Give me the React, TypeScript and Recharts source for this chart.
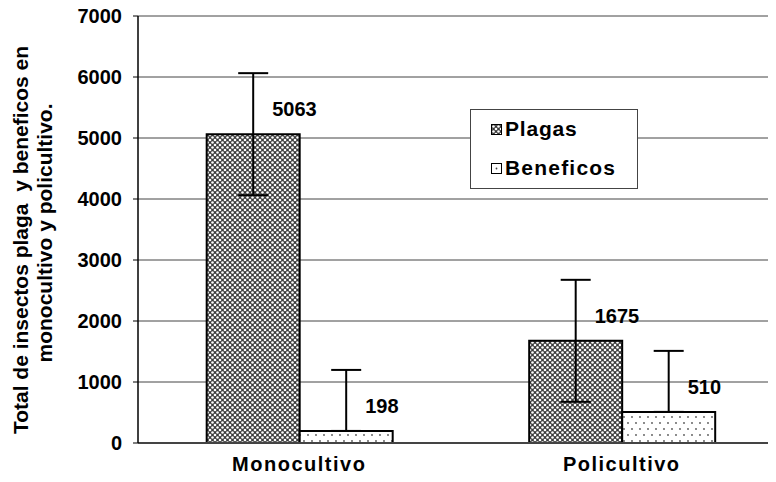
import React from "react";
import {
  BarChart,
  Bar,
  XAxis,
  YAxis,
  CartesianGrid,
  ErrorBar,
  LabelList,
  Legend,
} from "recharts";

const categories = ["Monocultivo", "Policultivo"];
const plagas = [5063, 1675];
const beneficos = [198, 510];
const plagasError = [1000, 1000];
const beneficosError = [1000, 1000];
const yTicks = [0, 1000, 2000, 3000, 4000, 5000, 6000, 7000];

const data = categories.map((name, i) => ({
  name,
  plagas: plagas[i],
  beneficos: beneficos[i],
  plagasErr: plagasError[i],
  // only the upper whisker is drawn for beneficos
  beneficosErr: [0, beneficosError[i]],
}));

const FONT = "'Liberation Sans', Arial, sans-serif";

const renderValue = (props: any) => {
  const { x, y, width, value } = props;
  return (
    <text
      x={x + width / 2 + 19}
      y={y - 25}
      fontFamily={FONT}
      fontSize={20}
      fontWeight="bold"
      fill="#000"
      dominantBaseline="central"
    >
      {value}
    </text>
  );
};

const YTitle = () => (
  <g fontFamily={FONT} fontSize={21} fontWeight="bold" fill="#000">
    <text
      transform="translate(20,240) rotate(-90)"
      textAnchor="middle"
      dominantBaseline="central"
      xmlSpace="preserve"
      style={{ whiteSpace: "pre" }}
    >
      {"Total de insectos plaga  y beneficos en"}
    </text>
    <text
      transform="translate(44,233) rotate(-90)"
      textAnchor="middle"
      dominantBaseline="central"
    >
      monocultivo y policultivo.
    </text>
  </g>
);

const LegendBox = () => (
  <div
    style={{
      width: 168,
      height: 80,
      border: "1px solid #444",
      background: "#fff",
      boxSizing: "border-box",
      fontFamily: FONT,
      fontSize: 21,
      fontWeight: "bold",
      paddingLeft: 20,
      letterSpacing: 0.8,
    }}
  >
    <div style={{ display: "flex", alignItems: "center", height: 38 }}>
      <svg width={11} height={11} style={{ marginRight: 3 }}>
        <rect x={0.5} y={0.5} width={10} height={10} fill="url(#plagasFill)" stroke="#000" />
      </svg>
      <span>Plagas</span>
    </div>
    <div style={{ display: "flex", alignItems: "center", height: 40 }}>
      <svg width={11} height={11} style={{ marginRight: 3 }}>
        <rect x={0.5} y={0.5} width={10} height={10} fill="#fff" stroke="#000" />
        <circle cx={5.5} cy={5.5} r={0.9} fill="#444" />
      </svg>
      <span style={{ letterSpacing: 1.2 }}>Beneficos</span>
    </div>
  </div>
);

export default function App() {
  return (
    <div style={{ width: 776, height: 482, overflow: "hidden", margin: -8, position: "relative" }}>
      <BarChart
        width={783}
        height={482}
        data={data}
        margin={{ top: 16, right: 0, bottom: 0, left: 0 }}
        barGap={0}
        barCategoryGap="21.3%"
      >
        <defs>
          <pattern id="plagasFill" width={5} height={5} patternUnits="userSpaceOnUse">
            <rect width={5} height={5} fill="#3c3c3c" />
            <circle cx={2.5} cy={2.5} r={1.3} fill="#fff" />
            <circle cx={0} cy={0} r={1.3} fill="#fff" />
            <circle cx={5} cy={0} r={1.3} fill="#fff" />
            <circle cx={0} cy={5} r={1.3} fill="#fff" />
            <circle cx={5} cy={5} r={1.3} fill="#fff" />
          </pattern>
          <pattern id="beneficosFill" width={16} height={12} patternUnits="userSpaceOnUse">
            <rect width={16} height={12} fill="#fff" />
            <circle cx={4} cy={3} r={0.9} fill="#555" />
            <circle cx={12} cy={3} r={0.9} fill="#555" />
            <circle cx={0} cy={9} r={0.9} fill="#555" />
            <circle cx={8} cy={9} r={0.9} fill="#555" />
            <circle cx={16} cy={9} r={0.9} fill="#555" />
          </pattern>
        </defs>
        <CartesianGrid vertical={false} stroke="#444" strokeWidth={1} />
        <XAxis
          dataKey="name"
          height={39}
          tickLine={false}
          tickSize={0}
          tickMargin={14}
          axisLine={{ stroke: "#444", strokeWidth: 2 }}
          tick={{
            fontFamily: FONT,
            fontSize: 20,
            fontWeight: "bold",
            fill: "#000",
            letterSpacing: 1.5,
          }}
        />
        <YAxis
          width={138}
          domain={[0, 7000]}
          ticks={yTicks}
          interval={0}
          tickSize={5}
          tickMargin={11}
          axisLine={{ stroke: "#000", strokeWidth: 1.5 }}
          tickLine={{ stroke: "#000" }}
          tick={{ fontFamily: FONT, fontSize: 20, fontWeight: "bold", fill: "#000" }}
          label={{ content: <YTitle /> }}
        />
        <Legend
          layout="vertical"
          align="center"
          verticalAlign="middle"
          wrapperStyle={{ left: 470, top: 109, width: 168, height: 80 }}
          content={<LegendBox />}
        />
        <Bar
          dataKey="plagas"
          name="Plagas"
          fill="url(#plagasFill)"
          stroke="#000"
          strokeWidth={2}
          isAnimationActive={false}
        >
          <ErrorBar dataKey="plagasErr" width={15} stroke="#000" strokeWidth={2} />
          <LabelList dataKey="plagas" content={renderValue} />
        </Bar>
        <Bar
          dataKey="beneficos"
          name="Beneficos"
          fill="url(#beneficosFill)"
          stroke="#000"
          strokeWidth={2}
          isAnimationActive={false}
        >
          <ErrorBar dataKey="beneficosErr" width={15} stroke="#000" strokeWidth={2} />
          <LabelList dataKey="beneficos" content={renderValue} />
        </Bar>
      </BarChart>
    </div>
  );
}
